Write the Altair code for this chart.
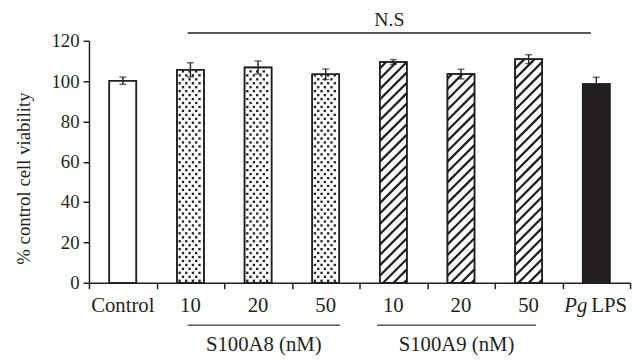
import altair as alt
import pandas as pd

# ---- data ----
labels = ["Control", "10", "20", "50", "10", "20", "50", "Pg LPS"]
viability = [100.2, 105.6, 106.8, 103.4, 109.5, 103.5, 110.9, 98.6]
errors = [1.8, 3.5, 3.2, 2.6, 1.2, 2.4, 2.2, 3.3]
patterns = ["open", "dots", "dots", "dots", "hatch", "hatch", "hatch", "solid"]
group_names = ["S100A8 (nM)", "S100A9 (nM)"]
group_start = [1.46, 4.26]
group_end = [3.71, 6.61]
ns_text = "N.S"
ns_start, ns_end = 1.46, 7.42

# ---- layout / style ----
W, H = 548, 245
XS, YS = W / 8, H / 120
INK = "#231f20"
FONT = "Liberation Serif"
LFS = 21
fill_of = {"open": "white", "dots": "white", "hatch": "white", "solid": INK}

bars = pd.DataFrame({
    "idx": range(len(labels)),
    "label": labels,
    "v": viability,
    "err": errors,
    "pat": patterns,
})
bars["x0"] = bars["idx"] + 0.3
bars["x1"] = bars["idx"] + 0.7
bars["xc"] = bars["idx"] + 0.5
bars["zero"] = 0
bars["lo"] = bars["v"] - bars["err"]
bars["hi"] = bars["v"] + bars["err"]
bars["fillc"] = [fill_of[p] for p in patterns]

# texture: dots and hatch lines derived from each bar's extent
dots, hatch = [], []
bw = 0.4 * XS
for i, (v, p) in enumerate(zip(viability, patterns)):
    x0 = i + 0.3
    bh = v * YS
    if p == "dots":
        r = 0
        while 2 + r * 4 < bh - 1:
            yp = 2 + r * 4
            off = 0 if r % 2 == 0 else 3.35
            for c in range(4):
                xp = 2.8 + off + c * 6.7
                if xp < bw - 1.5:
                    dots.append({"x": x0 + xp / XS, "y": yp / YS})
            r += 1
    elif p == "hatch":
        s = 10.5
        c = -bw + 3
        while c < bh:
            xs_ = max(0.0, -c)
            xe_ = min(bw, bh - c)
            if xe_ > xs_:
                hatch.append({"x": x0 + xs_ / XS, "y": (xs_ + c) / YS,
                              "x2": x0 + xe_ / XS, "y2": (xe_ + c) / YS})
            c += s
dots = pd.DataFrame(dots)
hatch = pd.DataFrame(hatch)

groups = pd.DataFrame({"name": group_names, "s": group_start, "e": group_end})
groups["m"] = (groups["s"] + groups["e"]) / 2
ns = pd.DataFrame({"t": [ns_text], "s": [ns_start], "e": [ns_end], "m": [(ns_start + ns_end) / 2]})

xscale = alt.Scale(domain=[0, 8], nice=False, zero=False)
yscale = alt.Scale(domain=[0, 120], nice=False)
xaxis = alt.Axis(values=list(range(9)), labels=False, title=None, grid=False, tickSize=6)
yaxis = alt.Axis(values=[0, 20, 40, 60, 80, 100, 120], grid=False, tickSize=6,
                 title="% control cell viability", titleX=-66, titleY=139,
                 titleAlign="center", titleBaseline="middle", labelPadding=4)

base = alt.Chart(bars)
bar_fill = base.mark_bar(stroke=INK, strokeWidth=1.5).encode(
    x=alt.X("x0:Q", scale=xscale, axis=xaxis),
    x2="x1",
    y=alt.Y("v:Q", scale=yscale, axis=yaxis),
    y2="zero",
    fill=alt.Fill("fillc:N", scale=None),
)
dot_layer = alt.Chart(dots).mark_square(size=5.5, color=INK, opacity=1).encode(
    x=alt.X("x:Q", scale=xscale), y=alt.Y("y:Q", scale=yscale))
hatch_layer = alt.Chart(hatch).mark_rule(color=INK, strokeWidth=2.3).encode(
    x=alt.X("x:Q", scale=xscale), y=alt.Y("y:Q", scale=yscale), x2="x2", y2="y2")
outline = base.mark_bar(fillOpacity=0, stroke=INK, strokeWidth=1.6).encode(
    x=alt.X("x0:Q", scale=xscale), x2="x1", y=alt.Y("v:Q", scale=yscale), y2="zero")
err_rule = base.mark_rule(color=INK, strokeWidth=1.4).encode(
    x=alt.X("xc:Q", scale=xscale), y=alt.Y("lo:Q", scale=yscale), y2="hi")
cap_hi = base.mark_tick(orient="horizontal", size=7, thickness=1.4, color=INK).encode(
    x=alt.X("xc:Q", scale=xscale), y=alt.Y("hi:Q", scale=yscale))
cap_lo = base.mark_tick(orient="horizontal", size=7, thickness=1.4, color=INK).encode(
    x=alt.X("xc:Q", scale=xscale), y=alt.Y("lo:Q", scale=yscale))

plain = bars[bars["label"] != "Pg LPS"]
xlab = alt.Chart(plain).mark_text(font=FONT, fontSize=LFS, color=INK, baseline="middle").encode(
    x=alt.X("xc:Q", scale=xscale), y=alt.value(H + 24), text="label:N")
pgdf = bars[bars["label"] == "Pg LPS"]
pg_it = alt.Chart(pgdf).mark_text(font=FONT, fontSize=LFS, fontStyle="italic", color=INK,
                                  baseline="middle", align="right", dx=-9).encode(
    x=alt.X("xc:Q", scale=xscale), y=alt.value(H + 24), text=alt.value("Pg"))
pg_lps = alt.Chart(pgdf).mark_text(font=FONT, fontSize=LFS, color=INK,
                                   baseline="middle", align="left", dx=-5).encode(
    x=alt.X("xc:Q", scale=xscale), y=alt.value(H + 24), text=alt.value("LPS"))

grp_line = alt.Chart(groups).mark_rule(color="#555555", strokeWidth=1.6).encode(
    x=alt.X("s:Q", scale=xscale), x2="e", y=alt.value(H + 43))
grp_text = alt.Chart(groups).mark_text(font=FONT, fontSize=LFS, color=INK, baseline="middle").encode(
    x=alt.X("m:Q", scale=xscale), y=alt.value(H + 63), text="name:N")
ns_line = alt.Chart(ns).mark_rule(color=INK, strokeWidth=1.5).encode(
    x=alt.X("s:Q", scale=xscale), x2="e", y=alt.value(-8))
ns_label = alt.Chart(ns).mark_text(font=FONT, fontSize=20, color=INK, baseline="middle").encode(
    x=alt.X("m:Q", scale=xscale), y=alt.value(-21), text="t:N")

chart = alt.layer(
    bar_fill, dot_layer, hatch_layer, outline, err_rule, cap_hi, cap_lo,
    xlab, pg_it, pg_lps, grp_line, grp_text, ns_line, ns_label,
).properties(
    width=W, height=H, autosize="none",
    padding={"left": 82, "top": 31, "right": 6, "bottom": 72},
    background="white",
).configure_view(stroke=None).configure_axis(
    domainColor=INK, tickColor=INK, labelColor=INK, titleColor=INK,
    labelFont=FONT, titleFont=FONT, labelFontSize=19, titleFontSize=19,
    titleFontWeight="normal", domainWidth=1.5, tickWidth=1.5,
)

chart.save("out.html", embed_options={"renderer": "svg", "actions": False})
